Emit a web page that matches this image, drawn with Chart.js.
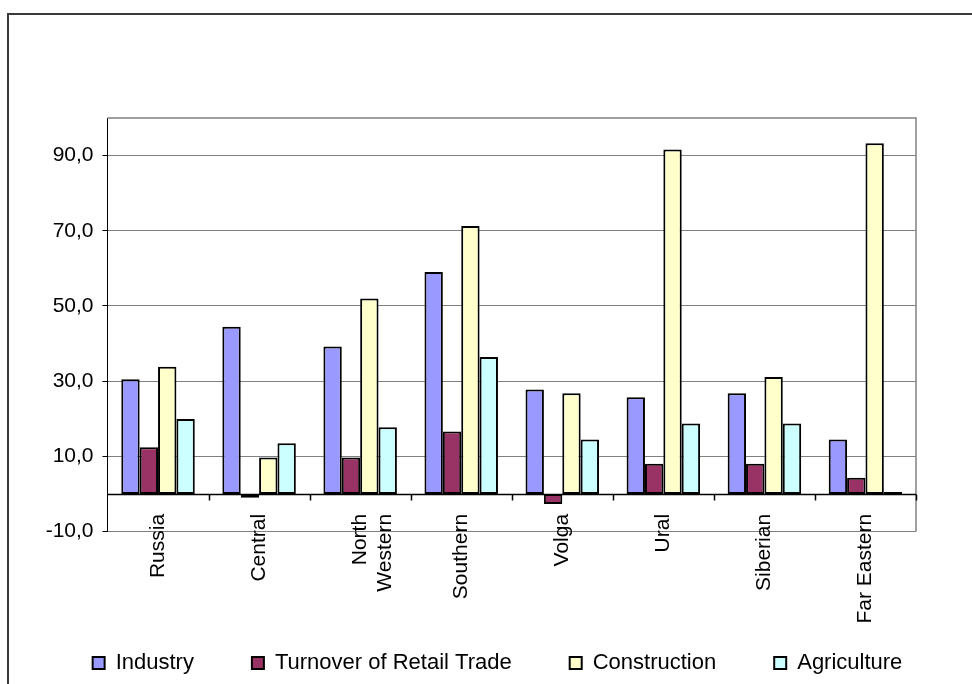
<!DOCTYPE html>
<html>
<head>
<meta charset="utf-8">
<title>Growth by federal district</title>
<script src="https://cdn.jsdelivr.net/npm/chart.js@4/dist/chart.umd.min.js"></script>
<style>
  html, body { margin: 0; padding: 0; background: #fff; }
  #wrap { position: relative; width: 972px; height: 684px; overflow: hidden; }
  #frame {
    position: absolute; left: 7px; top: 13px; right: -4px; bottom: -4px;
    border-top: 2px solid #3a3a3a; border-left: 2px solid #3a3a3a;
    pointer-events: none;
  }
  canvas { position: absolute; left: 0; top: 0; }
</style>
</head>
<body>
<div id="wrap">
  <canvas id="chart" width="972" height="684"></canvas>
  <div id="frame"></div>
</div>
<script>
// Federal districts
const districts = ['Russia', 'Central', ['North', 'Western'], 'Southern', 'Volga', 'Ural', 'Siberian', 'Far Eastern'];

// Series values, %
const industry     = [30.5, 44.5, 39.2, 59.0, 27.8, 25.7, 26.8, 14.5];
const retailTrade  = [12.4, -1.0,  9.7, 16.6, -2.7,  8.0,  8.0,  4.3];
const construction = [33.8,  9.7, 52.0, 71.3, 26.8, 91.6, 31.1, 93.3];
const agriculture  = [19.9, 13.5, 17.7, 36.4, 14.5, 18.7, 18.7,  0.5];

// Value axis
const yTicks = [-10, 10, 30, 50, 70, 90];
const yMin = -10;
const yMax = 100;

const FONT = { family: '"Liberation Sans", Arial, sans-serif', size: 21 };
const LEGEND_FONT = { family: '"Liberation Sans", Arial, sans-serif', size: 22 };

// Frame of the plot area, zero line and category ticks on it
const plotDecor = {
  id: 'plotDecor',
  afterLayout(chart) {
    // the category axis crosses the value axis at zero; its labels hang from there
    const { x, y } = chart.scales;
    x.top = y.getPixelForValue(0);
    x.bottom = chart.height;
  },
  afterDatasetsDraw(chart) {
    const { ctx, chartArea: a, scales: { x, y } } = chart;
    ctx.save();
    ctx.strokeStyle = '#808080';
    ctx.lineWidth = 1.5;
    ctx.beginPath();
    ctx.moveTo(a.left, a.top);
    ctx.lineTo(a.right, a.top);
    ctx.lineTo(a.right, a.bottom);
    ctx.stroke();

    const y0 = Math.round(y.getPixelForValue(0)) + 0.5;
    ctx.strokeStyle = '#000';
    ctx.lineWidth = 1.5;
    ctx.beginPath();
    ctx.moveTo(a.left, y0);
    ctx.lineTo(a.right, y0);
    const n = x.ticks.length;
    for (let i = 1; i <= n; i++) {
      const bx = Math.round(x.left + i * x.width / n) + 0.5;
      ctx.moveTo(bx, y0);
      ctx.lineTo(bx, y0 + 6);
    }
    ctx.stroke();
    ctx.restore();
  }
};

const mkSet = (label, data, color) => ({
  label, data,
  backgroundColor: color,
  borderColor: '#000',
  borderWidth: 2,
  borderSkipped: false,
  categoryPercentage: 4 / 5.5,
  barPercentage: 1.0
});

new Chart(document.getElementById('chart'), {
  type: 'bar',
  data: {
    labels: districts,
    datasets: [
      mkSet('Industry', industry, '#9999FF'),
      mkSet('Turnover of Retail Trade', retailTrade, '#993366'),
      mkSet('Construction', construction, '#FFFFCC'),
      mkSet('Agriculture', agriculture, '#CCFFFF')
    ]
  },
  options: {
    responsive: false,
    animation: false,
    devicePixelRatio: 1,
    layout: { padding: { top: 118, right: 0, left: 23, bottom: 0 } },
    plugins: {
      title: { display: false },
      tooltip: { enabled: false },
      legend: {
        position: 'bottom',
        maxHeight: 91.5,
        labels: {
          font: LEGEND_FONT,
          color: '#000',
          boxWidth: 12,
          boxHeight: 12,
          padding: 58
        }
      }
    },
    scales: {
      x: {
        grid: { display: false, drawTicks: false },
        border: { display: false },
        ticks: {
          font: FONT,
          color: '#000',
          autoSkip: false,
          maxRotation: 90,
          minRotation: 90,
          padding: 20
        },
        afterFit(scale) { scale.height = 62.5; }
      },
      y: {
        min: yMin,
        max: yMax,
        afterBuildTicks(scale) { scale.ticks = yTicks.map(v => ({ value: v })); },
        afterFit(scale) { scale.width = 84.5; },
        grid: { color: '#808080', lineWidth: 1, tickLength: 5, tickColor: '#000' },
        border: { display: true, color: '#000', width: 1 },
        ticks: {
          font: FONT,
          color: '#000',
          padding: 9,
          callback: v => v.toFixed(1).replace('.', ',')
        }
      },
      // empty right-hand margin beside the plot
      yRight: {
        position: 'right',
        min: yMin,
        max: yMax,
        grid: { display: false, drawTicks: false },
        border: { display: false },
        ticks: { display: false },
        afterFit(scale) { scale.width = 56; }
      }
    }
  },
  plugins: [plotDecor]
});
</script>
</body>
</html>
